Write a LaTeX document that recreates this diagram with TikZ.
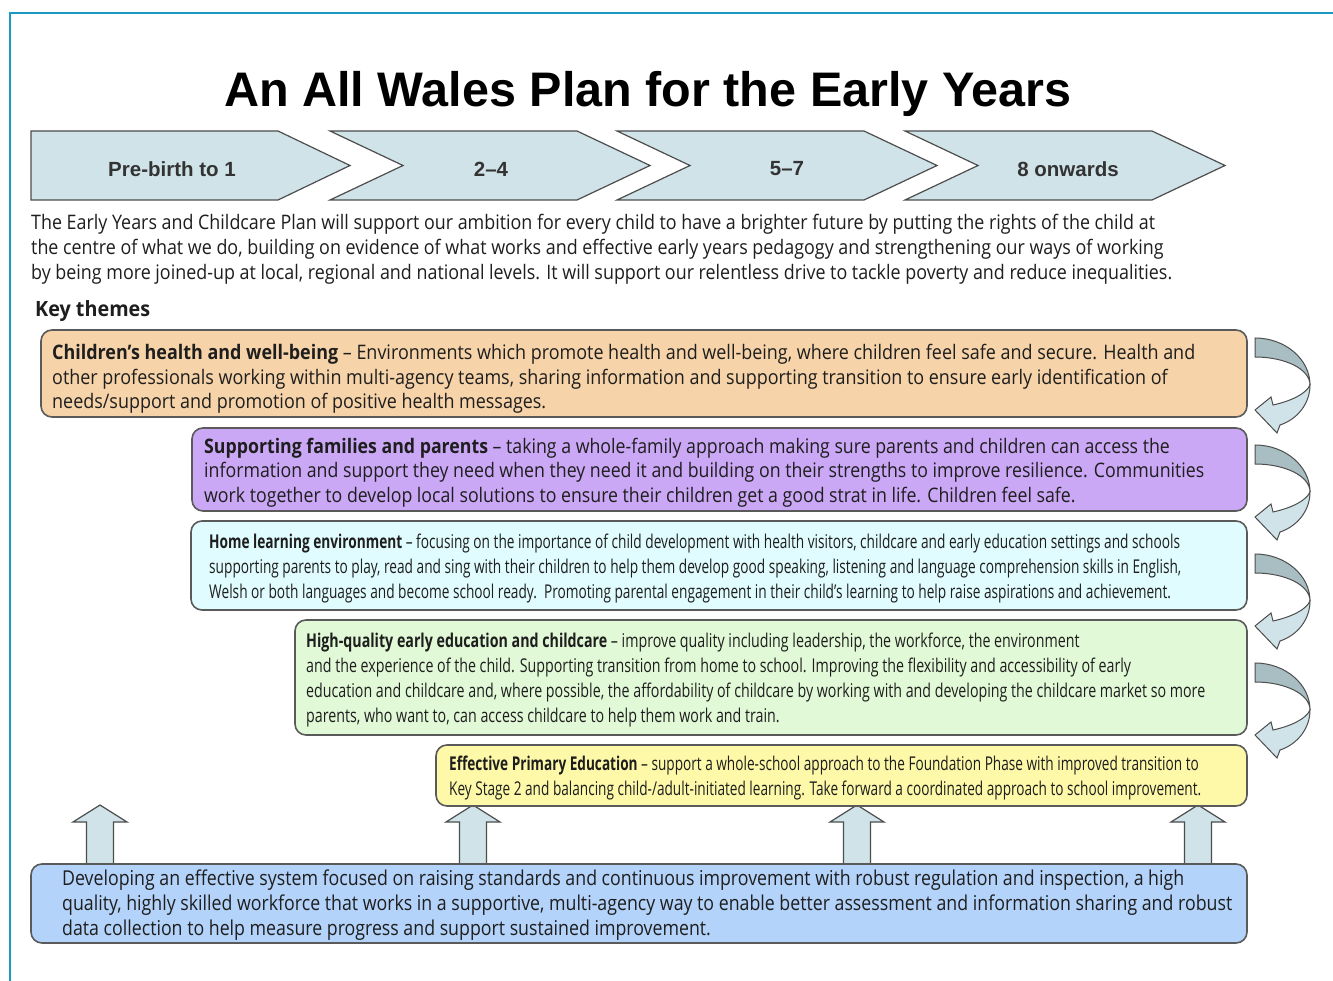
\documentclass[tikz,border=0pt]{standalone}
\usepackage{fontspec}
\usepackage{graphicx}
\setmainfont{Open Sans}
\newfontfamily\titlef{Liberation Sans}
\newfontfamily\bodyf{Open Sans}

\definecolor{frameteal}{HTML}{1A9AC0}
\definecolor{chevfill}{HTML}{CFE3E8}
\definecolor{chevline}{HTML}{4D4D4D}
\definecolor{boxline}{HTML}{5A5A5A}
\definecolor{cOrange}{HTML}{F6D3A8}
\definecolor{cPurple}{HTML}{CBA8F6}
\definecolor{cCyan}{HTML}{E0FCFE}
\definecolor{cGreen}{HTML}{E1F9D6}
\definecolor{cYellow}{HTML}{FDF9A8}
\definecolor{cBlue}{HTML}{B4D3FA}
\definecolor{arrDark}{HTML}{A8BEC2}
\definecolor{txtc}{HTML}{1E1E1E}
\definecolor{chevtxt}{HTML}{333333}

\newsavebox\fitbox
\newlength\fitlen
\newcommand\hfit[2]{%
  \sbox\fitbox{#2}%
  \setlength\fitlen{\wd\fitbox}%
  \pgfmathsetmacro\fitratio{#1/\fitlen}%
  \scalebox{\fitratio}[1]{\usebox\fitbox}}
\newcommand\lines[1]{\begin{tabular}{@{}l@{}}#1\end{tabular}}

\tikzset{
  frame/.style={draw=frameteal, line width=2.2pt},
  chev/.style={fill=chevfill, draw=chevline, line width=1.2pt, line join=miter},
  chevlabel/.style={font=\titlef\bfseries\fontsize{20.5}{24}\selectfont, text=chevtxt, inner sep=0},
  tbox/.style={draw=boxline, line width=1.6pt, rounded corners=11pt, anchor=north west, inner sep=0, outer sep=0},
  btext/.style={anchor=west, inner sep=0, text=txtc},
  uparrow/.style={fill=chevfill, draw=chevline, line width=1.2pt},
  cdark/.style={fill=arrDark, draw=chevline, line width=1pt},
  clight/.style={fill=chevfill, draw=chevline, line width=1pt},
}

\begin{document}
\begin{tikzpicture}[x=1pt,y=-1pt]
\useasboundingbox (0,0) rectangle (1333,981);
\fill[white] (0,0) rectangle (1333,981);

% frame
\draw[frame] (10,981) -- (10,13) -- (1333,13);

% title
\node[font=\titlef\bfseries\fontsize{48.5}{52}\selectfont, inner sep=0] (title) at (648,94) {An All Wales Plan for the Early Years};

% chevrons
\path[chev] (31,131) -- (278,131) -- (350,165.5) -- (278,200) -- (31,200) -- cycle;
\foreach \L in {330,617,905}{
  \path[chev] (\L,131) -- ({\L+247},131) -- ({\L+320},165.5) -- ({\L+247},200) -- (\L,200) -- ({\L+73},165.5) -- cycle;
}
\node[chevlabel] (age1) at (172,169) {Pre-birth to 1};
\node[chevlabel] (age2) at (491,169) {2–4};
\node[chevlabel] (age3) at (787,169) {5–7};
\node[chevlabel] (age4) at (1068,169) {8 onwards};

% intro
\node[btext] (intro) at (31,250) {\hfit{1141}{\bodyf\fontsize{20}{25}\selectfont\lines{%
The Early Years and Childcare Plan will support our ambition for every child to have a brighter future by putting the rights of the child at\\
the centre of what we do, building on evidence of what works and effective early years pedagogy and strengthening our ways of working\\
by being more joined-up at local, regional and national levels. It will support our relentless drive to tackle poverty and reduce inequalities.}}};

\node[btext] (keythemes) at (35,311) {\hfit{115}{\bodyf\bfseries\fontsize{21}{25}\selectfont Key themes}};

% up block arrows (drawn before boxes)
\foreach \c in {100,473,857,1198}{
  \path[uparrow] ({\c-13.5},866) -- ({\c-13.5},822) -- ({\c-27},822) -- (\c,805) -- ({\c+27},822) -- ({\c+13.5},822) -- ({\c+13.5},866);
}

% boxes
\node[tbox, fill=cOrange, minimum width=1206pt, minimum height=87pt] (b1) at (41,330) {};
\node[tbox, fill=cPurple, minimum width=1055pt, minimum height=83pt] (b2) at (192,428) {};
\node[tbox, fill=cCyan,   minimum width=1056pt, minimum height=89pt] (b3) at (191,521) {};
\node[tbox, fill=cGreen,  minimum width=952pt,  minimum height=115pt] (b4) at (295,620) {};
\node[tbox, fill=cYellow, minimum width=811pt,  minimum height=61pt] (b5) at (436,745) {};
\node[tbox, fill=cBlue,   minimum width=1216pt, minimum height=79pt] (b6) at (31,864) {};

\node[btext] (t1) at (52,379) {\hfit{1143}{\bodyf\fontsize{20}{25}\selectfont\lines{%
\textbf{Children’s health and well-being} – Environments which promote health and well-being, where children feel safe and secure. Health and\\
other professionals working within multi-agency teams, sharing information and supporting transition to ensure early identification of\\
needs/support and promotion of positive health messages.}}};

\node[btext] (t2) at (204,473) {\hfit{1000}{\bodyf\fontsize{20}{24.5}\selectfont\lines{%
\textbf{Supporting families and parents} – taking a whole-family approach making sure parents and children can access the\\
information and support they need when they need it and building on their strengths to improve resilience. Communities\\
work together to develop local solutions to ensure their children get a good strat in life. Children feel safe.}}};

\node[btext] (t3) at (209,568) {\hfit{972}{\bodyf\fontsize{19}{25}\selectfont\lines{%
\textbf{Home learning environment} – focusing on the importance of child development with health visitors, childcare and early education settings and schools\\
supporting parents to play, read and sing with their children to help them develop good speaking, listening and language comprehension skills in English,\\
Welsh or both languages and become school ready.\ \ Promoting parental engagement in their child’s learning to help raise aspirations and achievement.}}};

\node[btext] (t4) at (306,679.5) {\hfit{899}{\bodyf\fontsize{19}{25}\selectfont\lines{%
\textbf{High-quality early education and childcare} – improve quality including leadership, the workforce, the environment\\
and the experience of the child. Supporting transition from home to school. Improving the flexibility and accessibility of early\\
education and childcare and, where possible, the affordability of childcare by working with and developing the childcare market so more\\
parents, who want to, can access childcare to help them work and train.}}};

\node[btext] (t5) at (449,777.5) {\hfit{752}{\bodyf\fontsize{19}{25}\selectfont\lines{%
\textbf{Effective Primary Education} – support a whole-school approach to the Foundation Phase with improved transition to\\
Key Stage 2 and balancing child-/adult-initiated learning. Take forward a coordinated approach to school improvement.}}};

\node[btext] (t6) at (62,905) {\hfit{1170}{\bodyf\fontsize{20.5}{25}\selectfont\lines{%
Developing an effective system focused on raising standards and continuous improvement with robust regulation and inspection, a high\\
quality, highly skilled workforce that works in a supportive, multi-agency way to enable better assessment and information sharing and robust\\
data collection to help measure progress and support sustained improvement.}}};

% curved arrows on the right
\foreach \dy in {0,107,216,325}{
  \begin{scope}[shift={(0,\dy)}]
    \path[clight] (1310,385) .. controls (1310,403) and (1298,419) .. (1280,425)
      -- (1277,433) -- (1255,410) -- (1271,397) -- (1273,405)
      .. controls (1291,401) and (1306,394) .. (1310,385) -- cycle;
    \path[cdark] (1255,338) .. controls (1285,338) and (1310,359) .. (1310,385)
      .. controls (1310,369) and (1285,357) .. (1255,357) -- cycle;
  \end{scope}
}
\end{tikzpicture}
\end{document}
